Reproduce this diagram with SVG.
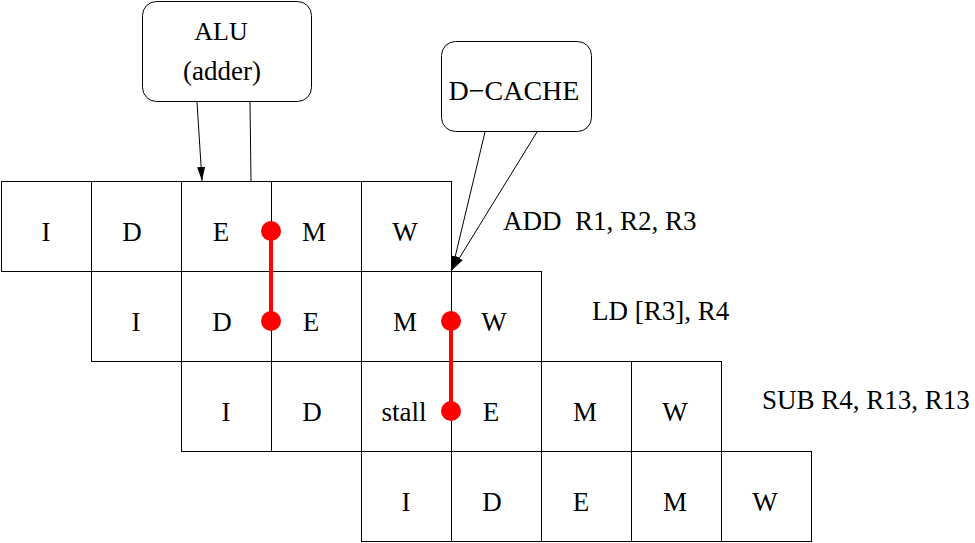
<svg xmlns="http://www.w3.org/2000/svg" width="975" height="543" viewBox="0 0 975 543" font-family="'Liberation Serif', 'Times New Roman', serif">
<style>
text{font-family:"Liberation Serif","Times New Roman",serif;font-size:27px;fill:#000}
.c{text-anchor:middle}
.cell{fill:none;stroke:#000;stroke-width:1}
.box{fill:#fff;stroke:#000;stroke-width:1}
.ln{stroke:#000;stroke-width:1;fill:none}
.red{stroke:#f00;stroke-width:4}
.dot{fill:#f00}
</style>
<defs>
<marker id="ah" viewBox="0 0 14 8" refX="14" refY="4" markerWidth="14" markerHeight="8" markerUnits="userSpaceOnUse" orient="auto"><path d="M0,0 L14,4 L0,8 z" fill="#000"/></marker>
</defs>
<rect width="975" height="543" fill="#fff"/>
<g id="grid">
<g id="row1">
<rect class="cell" x="1.5" y="181.5" width="90" height="90"/><rect class="cell" x="91.5" y="181.5" width="90" height="90"/><rect class="cell" x="181.5" y="181.5" width="90" height="90"/><rect class="cell" x="271.5" y="181.5" width="90" height="90"/><rect class="cell" x="361.5" y="181.5" width="90" height="90"/>
<text class="c" x="46" y="241">I</text><text class="c" x="132" y="241">D</text><text class="c" x="221" y="241">E</text><text class="c" x="314" y="241">M</text><text class="c" x="405" y="241">W</text>
</g>
<g id="row2">
<rect class="cell" x="91.5" y="271.5" width="90" height="90"/><rect class="cell" x="181.5" y="271.5" width="90" height="90"/><rect class="cell" x="271.5" y="271.5" width="90" height="90"/><rect class="cell" x="361.5" y="271.5" width="90" height="90"/><rect class="cell" x="451.5" y="271.5" width="90" height="90"/>
<text class="c" x="136" y="331">I</text><text class="c" x="222" y="331">D</text><text class="c" x="311" y="331">E</text><text class="c" x="405" y="331">M</text><text class="c" x="494" y="331">W</text>
</g>
<g id="row3">
<rect class="cell" x="181.5" y="361.5" width="90" height="90"/><rect class="cell" x="271.5" y="361.5" width="90" height="90"/><rect class="cell" x="361.5" y="361.5" width="90" height="90"/><rect class="cell" x="451.5" y="361.5" width="90" height="90"/><rect class="cell" x="541.5" y="361.5" width="90" height="90"/><rect class="cell" x="631.5" y="361.5" width="90" height="90"/>
<text class="c" x="226" y="421">I</text><text class="c" x="312" y="421">D</text><text class="c" x="404" y="421">stall</text><text class="c" x="491" y="421">E</text><text class="c" x="585" y="421">M</text><text class="c" x="675" y="421">W</text>
</g>
<g id="row4">
<rect class="cell" x="361.5" y="451.5" width="90" height="90"/><rect class="cell" x="451.5" y="451.5" width="90" height="90"/><rect class="cell" x="541.5" y="451.5" width="90" height="90"/><rect class="cell" x="631.5" y="451.5" width="90" height="90"/><rect class="cell" x="721.5" y="451.5" width="90" height="90"/>
<text class="c" x="406" y="511">I</text><text class="c" x="492" y="511">D</text><text class="c" x="581" y="511">E</text><text class="c" x="675" y="511">M</text><text class="c" x="765" y="511">W</text>
</g>
</g>
<g id="ALU">
<rect class="box" x="142.5" y="1.5" width="169" height="100" rx="14"/>
<text class="c" x="221" y="40" style="font-size:26px">ALU</text>
<text class="c" x="222" y="80">(adder)</text>
</g>
<g id="DCACHE">
<rect class="box" x="441.5" y="41.5" width="150" height="90" rx="14"/>
<text class="c" x="514" y="100" style="font-size:28px">D−CACHE</text>
</g>
<g id="labels">
<text x="503" y="230" xml:space="preserve">ADD  R1, R2, R3</text>
<text x="592" y="320">LD [R3], R4</text>
<text x="762" y="409">SUB R4, R13, R13</text>
</g>
<g id="connectors">
<line class="ln" x1="197" y1="102" x2="202" y2="181" marker-end="url(#ah)"/>
<line class="ln" x1="250" y1="102" x2="251" y2="181"/>
<line class="ln" x1="485" y1="132" x2="452" y2="270" marker-end="url(#ah)"/>
<line class="ln" x1="537" y1="132" x2="452" y2="270" marker-end="url(#ah)"/>
<line class="red" x1="271" y1="231" x2="271" y2="321"/>
<line class="red" x1="451" y1="321" x2="451" y2="411"/>
<circle class="dot" cx="271" cy="231" r="10"/>
<circle class="dot" cx="271" cy="321" r="10"/>
<circle class="dot" cx="451" cy="321" r="10"/>
<circle class="dot" cx="451" cy="411" r="10"/>
</g>
</svg>
